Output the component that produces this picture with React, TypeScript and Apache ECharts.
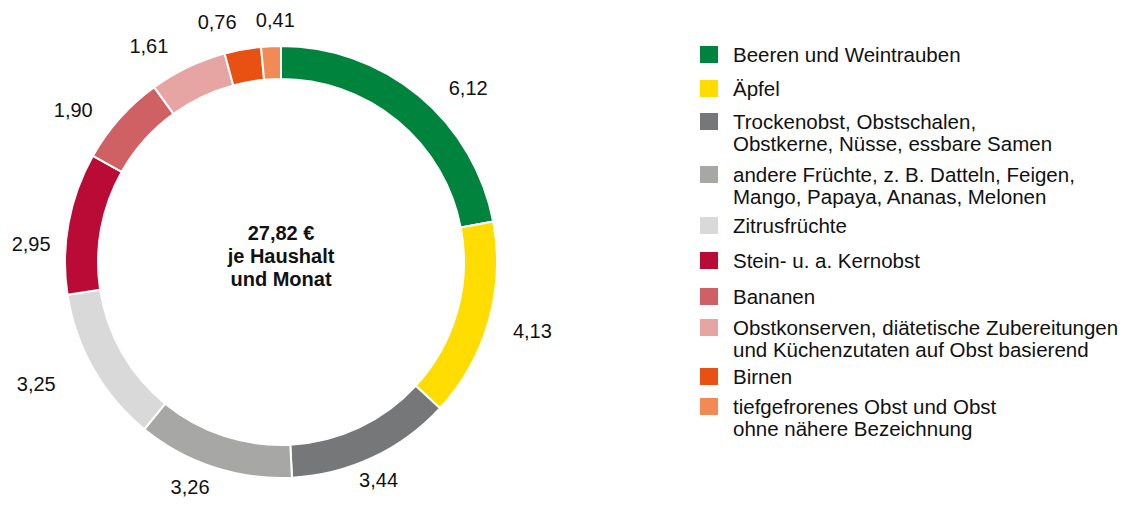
import React, { useEffect, useRef } from 'react';
import * as echarts from 'echarts';

const categories = [
  'Beeren und Weintrauben',
  'Äpfel',
  'Trockenobst, Obstschalen,\nObstkerne, Nüsse, essbare Samen',
  'andere Früchte, z. B. Datteln, Feigen,\nMango, Papaya, Ananas, Melonen',
  'Zitrusfrüchte',
  'Stein- u. a. Kernobst',
  'Bananen',
  'Obstkonserven, diätetische Zubereitungen\nund Küchenzutaten auf Obst basierend',
  'Birnen',
  'tiefgefrorenes Obst und Obst\nohne nähere Bezeichnung',
];
const values = [6.12, 4.13, 3.44, 3.26, 3.25, 2.95, 1.9, 1.61, 0.76, 0.41];
const colors = ['#00843D', '#FFDD00', '#767779', '#A7A7A6', '#D9D9D9', '#BA0A36', '#CF6064', '#E6A4A3', '#E85112', '#F28A55'];
const totalLabel = '27,82 €';
const centerLines = ['je Haushalt', 'und Monat'];

// layout (not data)
const legendIconTops = [46, 80, 113, 166, 217, 252, 288, 319, 368, 398];
const labelNudge: number[][] = [[26, 21], [8, 0], [-10, -11], [-12, -15], [-25, -3], [-1, 28], [-19, 16], [-23, 12], [-19, 9], [6, 11]];

const FONT = '"Liberation Sans", Arial, Helvetica, sans-serif';
const fmt = (v: number) => v.toFixed(2).replace('.', ',');
// square at the top of a taller box, so it lines up with the first text line
const TALL_ICON = 'path://M0,0H18V17H0Z M0,39H0.01V39.01H0Z';

export default function App() {
  const ref = useRef<HTMLDivElement>(null);
  useEffect(() => {
    if (!ref.current) return;
    const chart = echarts.init(ref.current, undefined, { renderer: 'svg' });
    const pieData = categories.map((name, i) => ({ name, value: values[i], itemStyle: { color: colors[i] } }));
    chart.setOption({
      animation: false,
      backgroundColor: '#ffffff',
      legend: categories.map((name, i) => {
        const twoLine = name.includes('\n');
        return {
          data: [name],
          left: 700,
          top: legendIconTops[i] - 2.5,
          orient: 'vertical',
          padding: 0,
          itemWidth: 18,
          itemHeight: twoLine ? 39 : 17,
          icon: twoLine ? TALL_ICON : 'rect',
          symbolKeepAspect: false,
          selectedMode: false,
          itemStyle: { borderWidth: 0 },
          textStyle: {
            fontSize: 20.5,
            lineHeight: 22,
            color: '#111111',
            fontFamily: FONT,
            padding: [0, 0, 0, 10],
          },
        };
      }),
      graphic: [
        {
          type: 'text',
          x: 281,
          y: 256,
          silent: true,
          style: {
            text: [totalLabel, ...centerLines].join('\n'),
            fontSize: 20,
            fontWeight: 'bold',
            fontFamily: FONT,
            lineHeight: 23,
            fill: '#111111',
            align: 'center',
            verticalAlign: 'middle',
          },
        },
      ],
      series: [
        {
          type: 'pie',
          center: [281, 262],
          radius: [183, 216],
          startAngle: 90,
          clockwise: true,
          avoidLabelOverlap: false,
          silent: true,
          label: { show: false },
          labelLine: { show: false },
          itemStyle: { borderColor: '#ffffff', borderWidth: 2 },
          emphasis: { disabled: true },
          data: pieData,
        },
        {
          type: 'pie',
          center: [281, 262],
          radius: [232, 268],
          startAngle: 90,
          clockwise: true,
          avoidLabelOverlap: false,
          silent: true,
          itemStyle: { color: 'rgba(0,0,0,0)' },
          label: {
            show: true,
            position: 'inside',
            fontSize: 20,
            color: '#111111',
            fontFamily: FONT,
            formatter: (p: any) => fmt(p.value),
          },
          labelLine: { show: false },
          labelLayout: (p: any) => ({ dx: labelNudge[p.dataIndex][0], dy: labelNudge[p.dataIndex][1] }),
          emphasis: { disabled: true },
          data: categories.map((name, i) => ({ name, value: values[i] })),
        },
      ],
    });
    return () => chart.dispose();
  }, []);
  return <div ref={ref} style={{ position: 'absolute', left: 0, top: 0, width: 1125, height: 505 }} />;
}
